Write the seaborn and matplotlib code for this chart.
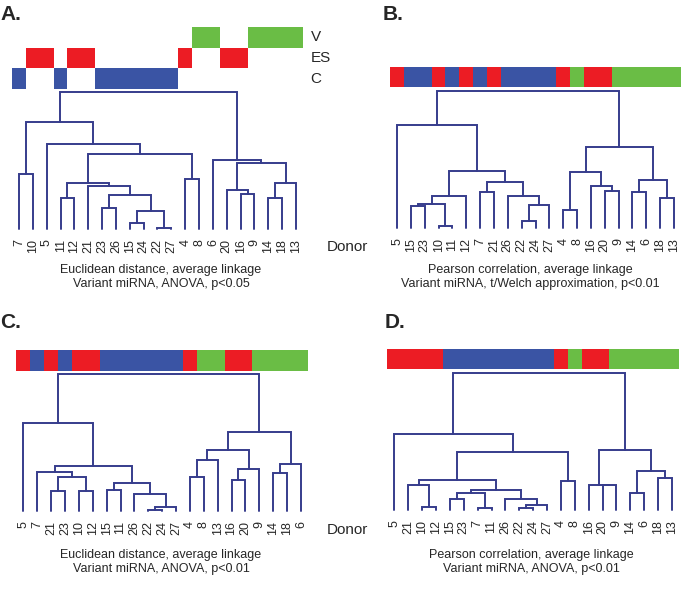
import numpy as np
import matplotlib
matplotlib.use("Agg")
import matplotlib.pyplot as plt
from matplotlib.colors import ListedColormap
import seaborn as sns

# ---- group of every donor (C = control, ES, V) ----
donors = ["4", "5", "6", "7", "8", "9", "10", "11", "12", "13", "14",
          "15", "16", "18", "20", "21", "22", "23", "24", "26", "27"]
donor_group = ["ES", "ES", "V", "C", "V", "V", "ES", "C", "ES", "V", "V",
               "C", "ES", "V", "ES", "ES", "C", "C", "C", "C", "C"]
group_of = dict(zip(donors, donor_group))

# ---- leaf orders and merges (left, right, height); ints refer to earlier merges ----
a_leaves = ["7", "10", "5", "11", "12", "21", "23", "26", "15", "24", "22",
            "27", "4", "8", "6", "20", "16", "9", "14", "18", "13"]
a_merges = [("7", "10", 165), ("11", "12", 92), ("15", "24", 18), ("22", "27", 4),
            (2, 3, 55), ("23", "26", 63), (5, 4, 103), ("21", 6, 128), (1, 7, 139),
            ("4", "8", 150), (8, 9, 225), ("5", 10, 255), (0, 11, 320),
            ("16", "9", 104), ("20", 13, 117), ("14", "18", 92), (15, "13", 139),
            (14, 16, 197), ("6", 17, 208), (12, 18, 411)]

b_leaves = ["5", "15", "23", "10", "11", "12", "7", "21", "26", "22", "24",
            "27", "4", "8", "16", "20", "9", "14", "6", "18", "13"]
b_merges = [("15", "23", 65), ("10", "11", 6), (0, 1, 74), (2, "12", 98),
            ("7", "21", 110), ("22", "24", 21), (5, "27", 70), ("26", 6, 98),
            (4, 7, 140), (3, 8, 173), ("5", 9, 310), ("4", "8", 53),
            ("20", "9", 111), ("16", 12, 126), (11, 13, 169), ("14", "6", 108),
            ("18", "13", 90), (15, 16, 144), (14, 17, 246), (10, 18, 414)]

c_leaves = ["5", "7", "21", "23", "10", "12", "15", "11", "26", "22", "24",
            "27", "4", "8", "13", "16", "20", "9", "14", "18", "6"]
c_merges = [("21", "23", 59), ("10", "12", 59), (0, 1, 101), ("7", 2, 117),
            ("15", "11", 62), ("22", "24", 4), (5, "27", 13), ("26", 6, 52),
            (4, 7, 85), (3, 8, 134), ("5", 9, 266), ("4", "8", 101),
            (11, "13", 154), ("16", "20", 93), (13, "9", 125), (12, 14, 183),
            ("14", "18", 114), (16, "6", 140), (15, 17, 238), (10, 18, 412)]

d_leaves = ["5", "21", "10", "12", "15", "23", "7", "11", "26", "22", "24",
            "27", "4", "8", "16", "20", "9", "14", "6", "18", "13"]
d_merges = [("10", "12", 9), ("21", 0, 76), ("15", "23", 34), ("7", "11", 5),
            (2, 3, 52), ("22", "24", 5), (5, "27", 15), ("26", 6, 34),
            (4, 7, 59), (1, 8, 91), ("4", "8", 88), (9, 10, 175), ("5", 11, 229),
            ("20", "9", 75), ("16", 13, 77), ("14", "6", 52), ("18", "13", 97),
            (15, 16, 117), (14, 17, 180), (12, 18, 414)]

captions = [
    "Euclidean distance, average linkage\nVariant miRNA, ANOVA, p<0.05",
    "Pearson correlation, average linkage\nVariant miRNA, t/Welch approximation, p<0.01",
    "Euclidean distance, average linkage\nVariant miRNA, ANOVA, p<0.01",
    "Pearson correlation, average linkage\nVariant miRNA, ANOVA, p<0.01",
]

group_codes = {"C": 0, "ES": 1, "V": 2}
strip_cmap = ListedColormap(["#3a54a4", "#ec1c24", "#6abd45"])
line_color = "#363c8c"

sns.set_style("white")
plt.rcParams["font.family"] = ["Liberation Sans", "DejaVu Sans"]

W, H = 685, 589
fig = plt.figure(figsize=(W / 100, H / 100), dpi=100)


def box(x0, y0, x1, y1):
    # pixel box (top-left origin) -> figure fraction rect
    return [x0 / W, 1 - y1 / H, (x1 - x0) / W, (y1 - y0) / H]


def draw_tree(ax, leaves, merges):
    xs = {lab: i for i, lab in enumerate(leaves)}
    node_x, node_h = [], []

    def get(ref):
        if isinstance(ref, str):
            return xs[ref], 0
        return node_x[ref], node_h[ref]

    for left, right, h in merges:
        xa, ha = get(left)
        xb, hb = get(right)
        ax.plot([xa, xa, xb, xb], [ha, h, h, hb], color=line_color,
                lw=1.4, solid_joinstyle="miter", clip_on=False)
        node_x.append((xa + xb) / 2)
        node_h.append(h)
    ax.set_xlim(-0.5, len(leaves) - 0.5)
    ax.set_ylim(0, merges[-1][2])
    ax.set_xticks(range(len(leaves)))
    ax.set_xticklabels(leaves, rotation=90, fontsize=9)
    ax.tick_params(axis="x", length=0, pad=7)
    ax.set_yticks([])
    sns.despine(ax=ax, left=True, bottom=True)


def draw_strip(ax, leaves, rows):
    mat = np.full((len(rows), len(leaves)), np.nan)
    for r, g in enumerate(rows):
        for c, lab in enumerate(leaves):
            if rows == ["all"] or group_of[lab] == g:
                mat[r, c] = group_codes[group_of[lab]]
    sns.heatmap(mat, ax=ax, cmap=strip_cmap, vmin=-0.5, vmax=2.5, cbar=False,
                xticklabels=False, yticklabels=False)


panels = [
    # leaves, merges, tree box, strip box, title pos, caption pos
    (a_leaves, a_merges, (12.1, 92, 302.9, 229), (12.1, 27, 302.9, 89), (0, 14), (161, 277)),
    (b_leaves, b_merges, (390.1, 91, 680.9, 228), (390.1, 67, 680.9, 87), (383, 14), (530, 277)),
    (c_leaves, c_merges, (16.4, 374, 307.9, 511), (16.4, 350, 307.9, 371), (0, 323), (161, 562)),
    (d_leaves, d_merges, (387.4, 373, 678.9, 510), (387.4, 349, 678.9, 369), (385, 323), (531, 562)),
]

for i, (leaves, merges, tbox, sbox, tpos, cpos) in enumerate(panels):
    ax = fig.add_axes(box(*tbox))
    draw_tree(ax, leaves, merges)
    sax = fig.add_axes(box(*sbox))
    rows = ["V", "ES", "C"] if i == 0 else ["all"]
    draw_strip(sax, leaves, rows)
    if i == 0:
        for r, name in enumerate(rows):
            sax.text(len(leaves) + 0.55, r + 0.5, name, ha="left", va="center",
                     fontsize=11)
    fig.text(tpos[0] / W, 1 - tpos[1] / H, "ABCD"[i] + ".", fontsize=15,
             fontweight="bold", ha="left", va="center")
    fig.text(cpos[0] / W, 1 - cpos[1] / H, captions[i], fontsize=9,
             ha="center", va="center", linespacing=1.25)

fig.text(327 / W, 1 - 247 / H, "Donor", fontsize=11, ha="left", va="center")
fig.text(327 / W, 1 - 530 / H, "Donor", fontsize=11, ha="left", va="center")

plt.savefig("out.png", dpi=100)
